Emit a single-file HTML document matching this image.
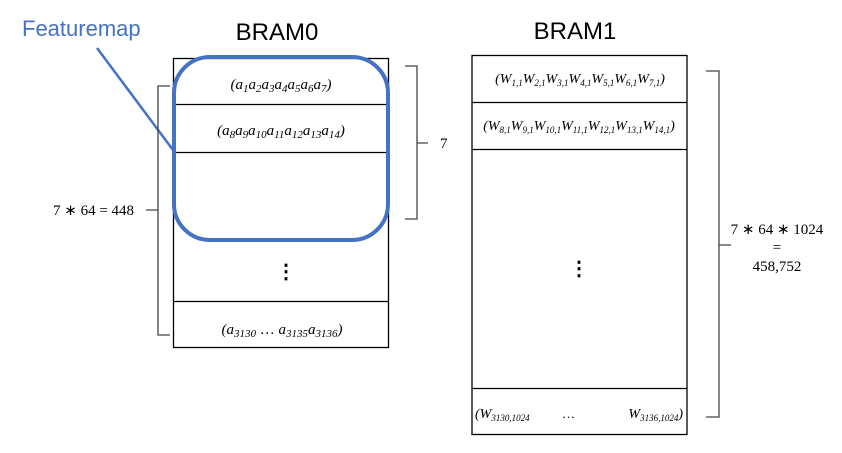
<!DOCTYPE html>
<html><head><meta charset="utf-8"><style>
body{margin:0;background:#fff}
svg{display:block}
text{font-family:"Liberation Serif",serif;fill:#000}
.s{font-family:"Liberation Sans",sans-serif}
</style></head><body>
<svg width="842" height="453" viewBox="0 0 842 453">
<rect width="842" height="453" fill="#fff"/>
<text class="s" x="277" y="40" font-size="24" text-anchor="middle">BRAM0</text>
<text class="s" x="575" y="39" font-size="24" text-anchor="middle">BRAM1</text>
<g stroke="#000" stroke-width="1.3" fill="none">
<rect x="173.5" y="58.5" width="215" height="289"/>
<line x1="173" y1="104.5" x2="389" y2="104.5"/>
<line x1="173" y1="152.5" x2="389" y2="152.5"/>
<line x1="173" y1="301.5" x2="389" y2="301.5"/>
</g>
<text x="281" y="89" font-size="15" font-style="italic" text-anchor="middle">(a<tspan font-size="11" dy="3">1</tspan><tspan dy="-3">a</tspan><tspan font-size="11" dy="3">2</tspan><tspan dy="-3">a</tspan><tspan font-size="11" dy="3">3</tspan><tspan dy="-3">a</tspan><tspan font-size="11" dy="3">4</tspan><tspan dy="-3">a</tspan><tspan font-size="11" dy="3">5</tspan><tspan dy="-3">a</tspan><tspan font-size="11" dy="3">6</tspan><tspan dy="-3">a</tspan><tspan font-size="11" dy="3">7</tspan><tspan dy="-3">)</tspan></text>
<text x="281" y="135" font-size="15" font-style="italic" text-anchor="middle">(a<tspan font-size="11" dy="3">8</tspan><tspan dy="-3">a</tspan><tspan font-size="11" dy="3">9</tspan><tspan dy="-3">a</tspan><tspan font-size="11" dy="3">10</tspan><tspan dy="-3">a</tspan><tspan font-size="11" dy="3">11</tspan><tspan dy="-3">a</tspan><tspan font-size="11" dy="3">12</tspan><tspan dy="-3">a</tspan><tspan font-size="11" dy="3">13</tspan><tspan dy="-3">a</tspan><tspan font-size="11" dy="3">14</tspan><tspan dy="-3">)</tspan></text>
<text x="286" y="278" font-size="20" font-weight="bold" text-anchor="middle">⋮</text>
<text x="282" y="334" font-size="15" font-style="italic" text-anchor="middle">(a<tspan font-size="11" dy="3">3130</tspan><tspan dy="-3" font-style="normal">  …    </tspan><tspan>a</tspan><tspan font-size="11" dy="3">3135</tspan><tspan dy="-3">a</tspan><tspan font-size="11" dy="3">3136</tspan><tspan dy="-3">)</tspan></text>
<rect x="174" y="57" width="214" height="183" rx="36" fill="none" stroke="#4472c4" stroke-width="4"/>
<line x1="97" y1="48" x2="173" y2="150" stroke="#4472c4" stroke-width="2.5"/>
<text class="s" x="22" y="36" font-size="22" style="fill:#4472c4">Featuremap</text>
<path d="M170 86 H158 V335 H170 M158 210 H146" fill="none" stroke="#444" stroke-width="1.3"/>
<text x="53" y="215" font-size="15">7 ∗ 64 = 448</text>
<path d="M405 66 H417 V219 H405 M417 143 H428" fill="none" stroke="#444" stroke-width="1.3"/>
<text x="440" y="148" font-size="15">7</text>
<g stroke="#000" stroke-width="1.3" fill="none">
<rect x="472" y="55.5" width="215" height="379"/>
<line x1="472" y1="102.5" x2="687" y2="102.5"/>
<line x1="472" y1="149.5" x2="687" y2="149.5"/>
<line x1="472" y1="388.5" x2="687" y2="388.5"/>
</g>
<text x="580" y="83" font-size="14" font-style="italic" text-anchor="middle">(W<tspan font-size="9" dy="3">1,1</tspan><tspan dy="-3">W</tspan><tspan font-size="9" dy="3">2,1</tspan><tspan dy="-3">W</tspan><tspan font-size="9" dy="3">3,1</tspan><tspan dy="-3">W</tspan><tspan font-size="9" dy="3">4,1</tspan><tspan dy="-3">W</tspan><tspan font-size="9" dy="3">5,1</tspan><tspan dy="-3">W</tspan><tspan font-size="9" dy="3">6,1</tspan><tspan dy="-3">W</tspan><tspan font-size="9" dy="3">7,1</tspan><tspan dy="-3">)</tspan></text>
<text x="579" y="130" font-size="14" font-style="italic" text-anchor="middle">(W<tspan font-size="9" dy="3">8,1</tspan><tspan dy="-3">W</tspan><tspan font-size="9" dy="3">9,1</tspan><tspan dy="-3">W</tspan><tspan font-size="9" dy="3">10,1</tspan><tspan dy="-3">W</tspan><tspan font-size="9" dy="3">11,1</tspan><tspan dy="-3">W</tspan><tspan font-size="9" dy="3">12,1</tspan><tspan dy="-3">W</tspan><tspan font-size="9" dy="3">13,1</tspan><tspan dy="-3">W</tspan><tspan font-size="9" dy="3">14,1</tspan><tspan dy="-3">)</tspan></text>
<text x="579" y="275" font-size="20" font-weight="bold" text-anchor="middle">⋮</text>
<text x="475" y="418" font-size="14" font-style="italic">(W<tspan font-size="9" dy="3">3130,1024</tspan></text>
<text x="562" y="418" font-size="13">…</text>
<text x="683" y="418" font-size="14" font-style="italic" text-anchor="end">W<tspan font-size="9" dy="3">3136,1024</tspan><tspan dy="-3">)</tspan></text>
<path d="M706 71 H719 V417 H706 M719 245 H731" fill="none" stroke="#444" stroke-width="1.3"/>
<text x="777" y="234" font-size="15" text-anchor="middle">7 ∗ 64  ∗ 1024</text>
<text x="777" y="252" font-size="15" text-anchor="middle">=</text>
<text x="777" y="271" font-size="15" text-anchor="middle">458,752</text>
</svg>
</body></html>
